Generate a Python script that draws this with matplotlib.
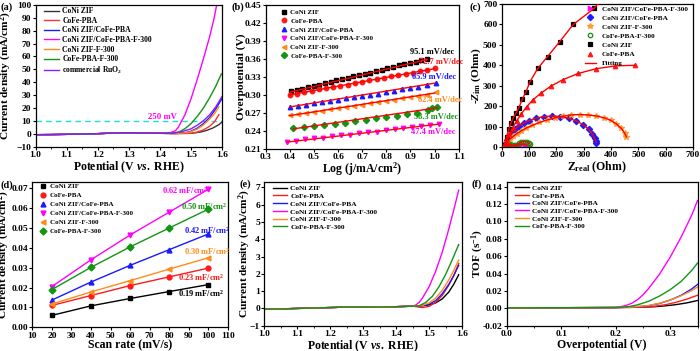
import numpy as np
import matplotlib.pyplot as plt
from matplotlib.ticker import MultipleLocator, FormatStrFormatter

plt.rcParams['font.family'] = ['Liberation Serif', 'DejaVu Serif']
plt.rcParams['font.weight'] = 'bold'
plt.rcParams['mathtext.fontset'] = 'custom'
plt.rcParams['mathtext.rm'] = 'Liberation Serif:bold'
plt.rcParams['mathtext.it'] = 'Liberation Serif:italic:bold'
plt.rcParams['mathtext.bf'] = 'Liberation Serif:bold'
plt.rcParams['mathtext.default'] = 'rm'

# ---------------- data ----------------
names6 = ["CoNi ZIF", "CoFe-PBA", "CoNi ZIF/CoFe-PBA", "CoNi ZIF/CoFe-PBA-F-300",
          "CoNi ZIF-F-300", "CoFe-PBA-F-300"]
ruo2_name = "commercial RuO$_2$"
col = {"zif": "#333333", "pba": "#ff3030", "mix": "#1a1aff", "f300": "#ff00ff",
       "zif300": "#ff8c1a", "pba300": "#139413", "ruo2": "#8a1aff"}

# (a) LSV, potential (V) / current density (mA/cm2)
lsv_base_x = [1.0, 1.05, 1.1, 1.2, 1.25, 1.3, 1.35, 1.4]
lsv_base_y = [-0.5, -0.4, -0.2, 0.3, 0.8, 1.0, 0.7, 0.6]
a_zif_x = [1.45, 1.5, 1.53, 1.55, 1.57, 1.59, 1.6]
a_zif_y = [0.4, 0.6, 1.5, 2.8, 4.6, 7.3, 9.2]
a_pba_x = [1.45, 1.5, 1.52, 1.54, 1.56, 1.575, 1.59]
a_pba_y = [0.4, 0.6, 1.5, 3.2, 6.0, 9.2, 15.0]
a_mix_x = [1.45, 1.48, 1.5, 1.52, 1.54, 1.56, 1.58, 1.6]
a_mix_y = [0.5, 1.0, 2.2, 4.5, 8.0, 12.8, 19.5, 27.5]
a_f300_x = [1.43, 1.45, 1.46, 1.47, 1.48, 1.5, 1.52, 1.54, 1.56, 1.575, 1.583]
a_f300_y = [0.8, 2.5, 5.5, 10.0, 14.5, 27.0, 42.0, 58.0, 75.0, 90.0, 100.0]
a_zif300_x = [1.45, 1.48, 1.5, 1.52, 1.54, 1.56, 1.575, 1.59]
a_zif300_y = [0.4, 0.9, 1.8, 3.8, 7.0, 11.5, 15.5, 21.0]
a_pba300_x = [1.44, 1.46, 1.48, 1.5, 1.52, 1.54, 1.56, 1.58, 1.598]
a_pba300_y = [0.6, 1.5, 4.0, 8.0, 13.5, 20.0, 28.0, 37.0, 46.5]
a_ruo2_x = [1.44, 1.47, 1.5, 1.52, 1.54, 1.56, 1.58, 1.6]
a_ruo2_y = [0.7, 1.8, 4.0, 6.8, 10.3, 14.8, 21.0, 29.0]

# (b) Tafel points, log(j) / overpotential (V)
b_zif_x = [0.405, 0.428, 0.452, 0.475, 0.499, 0.522, 0.546, 0.569, 0.593, 0.616, 0.640, 0.663,
           0.687, 0.710, 0.734, 0.757, 0.781, 0.804, 0.828, 0.851, 0.875, 0.898, 0.922, 0.945, 0.968]
b_zif_y = [0.306, 0.308, 0.310, 0.313, 0.315, 0.317, 0.319, 0.322, 0.324, 0.326, 0.328, 0.331,
           0.333, 0.335, 0.337, 0.340, 0.342, 0.344, 0.346, 0.349, 0.351, 0.353, 0.355, 0.358, 0.360]
b_pba_x = [0.40, 0.43, 0.46, 0.49, 0.52, 0.55, 0.58, 0.61, 0.64, 0.67, 0.70,
           0.73, 0.76, 0.79, 0.82, 0.85, 0.88, 0.91, 0.94, 0.97, 1.00]
b_pba_y = [0.300, 0.302, 0.304, 0.307, 0.309, 0.311, 0.313, 0.315, 0.317, 0.320, 0.322,
           0.324, 0.326, 0.328, 0.331, 0.333, 0.335, 0.337, 0.339, 0.342, 0.344]
b_mix_x = [0.400, 0.433, 0.467, 0.500, 0.533, 0.567, 0.600, 0.633, 0.667, 0.700,
           0.733, 0.767, 0.800, 0.833, 0.867, 0.900, 0.933, 0.967, 1.005]
b_mix_y = [0.280, 0.282, 0.284, 0.287, 0.288, 0.290, 0.292, 0.294, 0.296, 0.298,
           0.300, 0.302, 0.305, 0.307, 0.309, 0.311, 0.313, 0.316, 0.320]
b_f300_x = [0.390, 0.427, 0.464, 0.501, 0.538, 0.575, 0.612, 0.649, 0.686,
            0.723, 0.760, 0.797, 0.834, 0.871, 0.908, 0.945, 0.982, 1.019]
b_f300_y = [0.222, 0.224, 0.226, 0.228, 0.229, 0.231, 0.233, 0.234, 0.236,
            0.238, 0.239, 0.241, 0.243, 0.245, 0.246, 0.248, 0.250, 0.251]
b_zif300_x = b_mix_x
b_zif300_y = [0.266, 0.268, 0.270, 0.272, 0.274, 0.276, 0.278, 0.280, 0.282, 0.284,
              0.286, 0.288, 0.290, 0.292, 0.294, 0.296, 0.298, 0.300, 0.304]
b_pba300_x = [0.415, 0.458, 0.500, 0.543, 0.586, 0.629, 0.672, 0.715, 0.758,
              0.800, 0.843, 0.886, 0.929, 0.972, 0.990, 1.008]
b_pba300_y = [0.245, 0.247, 0.249, 0.250, 0.252, 0.254, 0.256, 0.259, 0.261,
              0.263, 0.265, 0.268, 0.270, 0.275, 0.278, 0.280]
b_fit_x = {"zif": [0.40, 0.97], "pba": [0.40, 1.00], "mix": [0.40, 1.00],
           "f300": [0.39, 1.02], "zif300": [0.40, 1.00], "pba300": [0.415, 1.01]}
b_fit_y = {"zif": [0.3045, 0.359], "pba": [0.300, 0.3436], "mix": [0.2800, 0.3195],
           "f300": [0.2215, 0.2515], "zif300": [0.2655, 0.303], "pba300": [0.2435, 0.2785]}
b_slopes = ["95.1 mV/dec", "72.7 mV/dec", "65.9 mV/dec", "47.4 mV/dec",
            "62.4 mV/dec", "58.3 mV/dec"]

# (c) Nyquist, Z_real / -Z_im (Ohm)
c_f300_x = [5, 10, 15, 20, 28, 36, 45, 55, 65, 75, 85, 92]
c_f300_y = [2, 6, 8, 8, 6, 4, 5, 9, 12, 14, 12, 8]
c_mix_x = [12, 18, 26, 36, 48, 62, 80, 100, 125, 155, 185, 215, 245, 272, 298, 318, 332, 340, 344, 346]
c_mix_y = [15, 32, 52, 70, 87, 102, 116, 129, 141, 149, 152, 149, 141, 128, 110, 88, 64, 42, 30, 22]
c_zif300_x = [12, 20, 30, 42, 56, 72, 90, 112, 138, 165, 195, 225, 255, 285, 315, 345,
              375, 400, 420, 437, 450, 456]
c_zif300_y = [10, 24, 38, 52, 66, 80, 93, 106, 120, 132, 143, 151, 157, 159, 157, 152,
              143, 130, 113, 92, 68, 50]
c_pba300_x = [8, 14, 22, 30, 38, 46, 54, 62, 70, 78, 86, 94, 100, 104]
c_pba300_y = [5, 10, 13, 13, 10, 8, 12, 18, 23, 26, 26, 24, 19, 14]
c_zif_x = [10, 18, 26, 34, 42, 52, 62, 75, 88, 104, 132, 168, 212, 262, 338]
c_zif_y = [12, 50, 88, 118, 142, 165, 190, 233, 268, 320, 385, 443, 515, 600, 678]
c_zif_fit_end = (352, 700)
c_pba_x = [10, 18, 28, 40, 55, 72, 92, 115, 145, 180, 225, 280, 345, 415, 488]
c_pba_y = [8, 30, 62, 95, 128, 163, 198, 232, 265, 298, 330, 360, 383, 397, 400]

# (d) capacitive current, scan rate (mV/s) / current density (mA/cm2)
d_scan = [20, 40, 60, 80, 100]
d_zif = [0.0060, 0.0108, 0.0145, 0.0180, 0.0215]
d_pba = [0.0110, 0.0160, 0.0210, 0.0254, 0.0298]
d_mix = [0.0137, 0.0228, 0.0312, 0.0391, 0.0470]
d_f300 = [0.0205, 0.0340, 0.0465, 0.0580, 0.0695]
d_zif300 = [0.0117, 0.0178, 0.0235, 0.0293, 0.0350]
d_pba300 = [0.0190, 0.0302, 0.0405, 0.0500, 0.0595]
d_cdl = ["0.19 mF/cm$^2$", "0.23 mF/cm$^2$", "0.42 mF/cm$^2$", "0.62 mF/cm$^2$",
         "0.30 mF/cm$^2$", "0.50 mF/cm$^2$"]

# (e) normalised LSV
e_base_x = [1.0, 1.05, 1.1, 1.2, 1.25, 1.3, 1.35, 1.4, 1.45]
e_base_y = [-0.05, -0.03, 0.0, 0.05, 0.08, 0.07, 0.08, 0.10, 0.13]
e_zif_x = [1.48, 1.5, 1.52, 1.54, 1.56, 1.575, 1.59]
e_zif_y = [0.16, 0.2, 0.32, 0.55, 0.95, 1.4, 1.95]
e_pba_x = [1.48, 1.5, 1.52, 1.54, 1.56, 1.575, 1.59]
e_pba_y = [0.05, 0.12, 0.35, 0.75, 1.35, 1.9, 2.6]
e_mix_x = [1.48, 1.5, 1.52, 1.54, 1.56, 1.575, 1.59]
e_mix_y = [0.16, 0.24, 0.45, 0.85, 1.4, 1.9, 2.5]
e_f300_x = [1.46, 1.47, 1.48, 1.5, 1.52, 1.54, 1.56, 1.575, 1.59]
e_f300_y = [0.2, 0.35, 0.6, 1.25, 2.15, 3.25, 4.6, 5.7, 6.85]
e_zif300_x = [1.48, 1.5, 1.52, 1.54, 1.56, 1.575, 1.59]
e_zif300_y = [0.18, 0.32, 0.6, 1.05, 1.65, 2.2, 2.8]
e_pba300_x = [1.47, 1.49, 1.51, 1.53, 1.55, 1.57, 1.59]
e_pba300_y = [0.15, 0.35, 0.7, 1.25, 1.95, 2.8, 3.7]

# (f) TOF, overpotential (V) / TOF (1/s)
f_base_x = [0.0, 0.05, 0.1, 0.15, 0.2]
f_base_y = [0.0005, 0.0006, 0.0007, 0.0008, 0.0009]
f_zif_x = [0.24, 0.27, 0.29, 0.31, 0.33, 0.35]
f_zif_y = [0.0012, 0.0018, 0.0028, 0.0042, 0.0062, 0.0090]
f_pba_x = [0.24, 0.27, 0.29, 0.31, 0.33, 0.35]
f_pba_y = [0.0012, 0.0022, 0.0040, 0.0068, 0.0105, 0.0150]
f_mix_x = [0.23, 0.26, 0.28, 0.30, 0.32, 0.34, 0.35]
f_mix_y = [0.0014, 0.0030, 0.0055, 0.0095, 0.0150, 0.0225, 0.0275]
f_f300_x = [0.21, 0.22, 0.23, 0.24, 0.25, 0.26, 0.28, 0.30, 0.32, 0.34, 0.35]
f_f300_y = [0.0020, 0.0035, 0.0060, 0.0100, 0.0155, 0.0225, 0.0390, 0.0590, 0.0820, 0.1080, 0.1240]
f_zif300_x = [0.23, 0.26, 0.28, 0.30, 0.32, 0.34, 0.35]
f_zif300_y = [0.0014, 0.0032, 0.0058, 0.0095, 0.0145, 0.0205, 0.0245]
f_pba300_x = [0.22, 0.24, 0.26, 0.28, 0.30, 0.32, 0.34, 0.35]
f_pba300_y = [0.0015, 0.0040, 0.0080, 0.0140, 0.0215, 0.0310, 0.0440, 0.0520]

keys = ["zif", "pba", "mix", "f300", "zif300", "pba300"]

# ---------------- layout ----------------
W, H = 700, 351
fig = plt.figure(figsize=(W / 100, H / 100), dpi=100)

TICK_FS = 6.8
XLABEL_FS = 8.5
YLABEL_FS = 8.2


def panel(l, r, t, b):
    ax = fig.add_axes([l / W, 1 - b / H, (r - l) / W, (b - t) / H])
    ax._px = (l, r, t, b)
    for s in ax.spines.values():
        s.set_linewidth(0.9)
    ax.tick_params(direction='out', length=2.5, width=0.8, labelsize=TICK_FS, pad=0.6)
    ax.tick_params(which='minor', direction='out', length=1.6, width=0.6)
    return ax


def style_labels(ax, xl, yl, ylab_right, xlab_top):
    l, r, t, b = ax._px
    ax.set_xlabel(xl, fontsize=XLABEL_FS, fontweight='bold')
    ax.set_ylabel(yl, fontsize=YLABEL_FS, fontweight='bold')
    ax.yaxis.set_label_coords((ylab_right - l) / (r - l), 0.5)
    ax.xaxis.set_label_coords(0.5, (b - xlab_top) / (b - t))
    for lab in ax.get_xticklabels() + ax.get_yticklabels():
        lab.set_fontweight('bold')


def legend(ax, x0, shift_px, handlelength, textpad, spacing, size=5.5):
    l, r, t, b = ax._px
    ax.legend(loc='upper left', bbox_to_anchor=(x0, 1.0 + shift_px / (b - t)), frameon=False,
              handlelength=handlelength, labelspacing=spacing, borderpad=0.35,
              handletextpad=textpad, prop={'weight': 'bold', 'size': size})


lab_kw = dict(fontsize=7.5, fontweight='bold', va='center')
fig.text(0.5 / W, 1 - 7 / H, "(a)", **lab_kw)
fig.text(231 / W, 1 - 7 / H, "(b)", **lab_kw)
fig.text(469 / W, 1 - 7 / H, "(c)", **lab_kw)
fig.text(0.5 / W, 1 - 185 / H, "(d)", **lab_kw)
fig.text(240 / W, 1 - 184 / H, "(e)", **lab_kw)
fig.text(472 / W, 1 - 184 / H, "(f)", **lab_kw)

# ----- (a)
ax = panel(35.5, 222, 4.7, 147)
a_sets = [(a_zif_x, a_zif_y), (a_pba_x, a_pba_y), (a_mix_x, a_mix_y), (a_f300_x, a_f300_y),
          (a_zif300_x, a_zif300_y), (a_pba300_x, a_pba300_y)]
ax.axhline(10, color='#19e0e0', lw=1.0, ls=(0, (4, 3)))
for k, nm, (xs, ys) in zip(keys, names6, a_sets):
    ax.plot(lsv_base_x + xs, lsv_base_y + ys, color=col[k], lw=1.0, label=nm)
ax.plot(lsv_base_x + a_ruo2_x, lsv_base_y + a_ruo2_y, color=col["ruo2"], lw=1.0, label=ruo2_name)
ax.text(1.41, 13, "250 mV", color=col["f300"], fontsize=6.3, fontweight='bold',
        ha='center', va='center')
ax.set_xlim(1.0, 1.6)
ax.set_ylim(-10, 100)
ax.xaxis.set_major_locator(MultipleLocator(0.1))
ax.xaxis.set_minor_locator(MultipleLocator(0.05))
ax.yaxis.set_major_locator(MultipleLocator(10))
ax.xaxis.set_major_formatter(FormatStrFormatter('%.1f'))
legend(ax, 0.01, 4, 2.0, 0.4, 0.21)
style_labels(ax, r"Potential (V $\mathit{vs.}$ RHE)", "Current density (mA/cm$^2$)", 14.5, 160)

# ----- (b)
ax = panel(265.7, 458.7, 4.7, 149)
b_sets = [(b_zif_x, b_zif_y), (b_pba_x, b_pba_y), (b_mix_x, b_mix_y), (b_f300_x, b_f300_y),
          (b_zif300_x, b_zif300_y), (b_pba300_x, b_pba300_y)]
b_mk = ['s', 'o', '^', 'v', '<', 'D']
b_col = ["#000000", "#ff1a1a", "#1a1aff", "#ff00ff", "#ff8c1a", "#139413"]
for k, nm, (xs, ys), m, c in zip(keys, names6, b_sets, b_mk, b_col):
    ax.plot(xs, ys, ls='none', marker=m, ms=3.2, color=c, mec=c, label=nm)
for k in keys:
    ax.plot(b_fit_x[k], b_fit_y[k], color='#ff0000', lw=1.0)
b_txt_pos = [(0.99, 0.3718), (1.026, 0.355), (0.997, 0.329), (0.995, 0.2388),
             (1.024, 0.2915), (1.005, 0.2637)]
for (tx, ty), s, c in zip(b_txt_pos, b_slopes, b_col):
    ax.text(tx, ty, s, color=c, fontsize=6, fontweight='bold', ha='center', va='center')
ax.set_xlim(0.3, 1.1)
ax.set_ylim(0.21, 0.45)
ax.xaxis.set_major_locator(MultipleLocator(0.1))
ax.yaxis.set_major_locator(MultipleLocator(0.03))
ax.xaxis.set_major_formatter(FormatStrFormatter('%.1f'))
ax.yaxis.set_major_formatter(FormatStrFormatter('%.2f'))
legend(ax, 0.05, 1.5, 0.8, 0.5, 0.42, size=5.0)
style_labels(ax, "Log (j/mA/cm$^2$)", "Overpotential (V)", 245.5, 160.5)

# ----- (c)
ax = panel(501.7, 693, 4, 147)
c_sets = [(c_f300_x, c_f300_y, '>', "#ff00ff", 'CoNi ZIF/CoFe-PBA-F-300', True),
          (c_mix_x, c_mix_y, 'D', "#1a1aff", 'CoNi ZIF/CoFe-PBA', True),
          (c_zif300_x, c_zif300_y, '*', "#ff9a30", 'CoNi ZIF-F-300', True),
          (c_pba300_x, c_pba300_y, 'o', "#139413", 'CoFe-PBA-F-300', False),
          (c_zif_x, c_zif_y, 's', "#000000", 'CoNi ZIF', True),
          (c_pba_x, c_pba_y, '^', "#ff1a1a", 'CoFe-PBA', True)]
for xs, ys, m, c, nm, filled in c_sets:
    ax.plot(xs, ys, ls='none', marker=m, ms=3.2 if m != '*' else 4,
            color=c, mec=c, mfc=c if filled else 'none', mew=0.9, label=nm, zorder=2)
for xs, ys, m, c, nm, filled in c_sets:
    ax.plot(xs, ys, color='#ff0000', lw=1.0, zorder=3)
ax.plot([c_zif_x[-1], c_zif_fit_end[0]], [c_zif_y[-1], c_zif_fit_end[1]],
        color='#ff0000', lw=1.0, zorder=3, clip_on=True)
ax.plot([], [], color='#ff0000', lw=1.0, label='Fitting')
ax.set_xlim(0, 700)
ax.set_ylim(0, 700)
ax.xaxis.set_major_locator(MultipleLocator(100))
ax.yaxis.set_major_locator(MultipleLocator(100))
ax.legend(loc='upper right', bbox_to_anchor=(1.0, 1.0 + 3.5 / 143), frameon=False,
          handlelength=1.6, labelspacing=0.42, borderpad=0.2, handletextpad=0.8,
          prop={'weight': 'bold', 'size': 5.2})
style_labels(ax, r"Z$_{\rm real}$ (Ohm)", r"-$\mathit{Z}_{\rm im}$ (Ohm)", 483, 159.5)

# ----- (d)
ax = panel(32.3, 228, 181.7, 327.3)
d_sets = [d_zif, d_pba, d_mix, d_f300, d_zif300, d_pba300]
d_txt_pos = [(96.5, 0.0171), (96.5, 0.0249), (99.3, 0.0489), (88, 0.0687),
             (99.3, 0.0383), (97.7, 0.061)]
for k, nm, ys, m, c, (tx, ty), s in zip(keys, names6, d_sets, b_mk, b_col, d_txt_pos, d_cdl):
    ax.plot(d_scan, ys, color=c, lw=1.0)
    ax.plot(d_scan, ys, ls='none', marker=m, ms=3.5, color=c, label=nm)
    ax.text(tx, ty, s, color=c, fontsize=6, fontweight='bold', ha='center', va='center')
ax.set_xlim(10, 110)
ax.set_ylim(0, 0.0733)
ax.xaxis.set_major_locator(MultipleLocator(10))
ax.yaxis.set_major_locator(MultipleLocator(0.01))
ax.yaxis.set_major_formatter(FormatStrFormatter('%.2f'))
legend(ax, 0.01, 4, 0.8, 0.6, 0.45, size=5.0)
style_labels(ax, "Scan rate (mV/s)", "Current density (mA/cm$^2$)", 12.5, 339)

# ----- (e)
ax = panel(264.3, 462, 182.3, 325.7)
e_sets = [(e_zif_x, e_zif_y), (e_pba_x, e_pba_y), (e_mix_x, e_mix_y), (e_f300_x, e_f300_y),
          (e_zif300_x, e_zif300_y), (e_pba300_x, e_pba300_y)]
e_col = ["#000000", "#ff1a1a", "#1a1aff", "#ff00ff", "#ff8c1a", "#139413"]
for k, nm, (xs, ys), c in zip(keys, names6, e_sets, e_col):
    ax.plot(e_base_x + xs, e_base_y + ys, color=c, lw=1.0, label=nm)
ax.set_xlim(1.0, 1.6)
ax.set_ylim(-1, 7.3)
ax.xaxis.set_major_locator(MultipleLocator(0.1))
ax.xaxis.set_minor_locator(MultipleLocator(0.05))
ax.yaxis.set_major_locator(MultipleLocator(1))
ax.xaxis.set_major_formatter(FormatStrFormatter('%.1f'))
legend(ax, 0.01, 3.5, 2.0, 0.4, 0.22, size=5.3)
style_labels(ax, r"Potential (V $\mathit{vs.}$ RHE)", "Current density (mA/cm$^2$)", 253, 339)

# ----- (f)
ax = panel(506.7, 697.5, 182.3, 325.7)
f_sets = [(f_zif_x, f_zif_y), (f_pba_x, f_pba_y), (f_mix_x, f_mix_y), (f_f300_x, f_f300_y),
          (f_zif300_x, f_zif300_y), (f_pba300_x, f_pba300_y)]
for k, nm, (xs, ys), c in zip(keys, names6, f_sets, e_col):
    ax.plot(f_base_x + xs, f_base_y + ys, color=c, lw=1.0, label=nm)
ax.set_xlim(0, 0.35)
ax.set_ylim(-0.02, 0.145)
ax.xaxis.set_major_locator(MultipleLocator(0.1))
ax.xaxis.set_minor_locator(MultipleLocator(0.05))
ax.yaxis.set_major_locator(MultipleLocator(0.02))
ax.xaxis.set_major_formatter(FormatStrFormatter('%.1f'))
ax.yaxis.set_major_formatter(FormatStrFormatter('%.2f'))
legend(ax, 0.01, 3.5, 2.0, 0.35, 0.22, size=5.2)
style_labels(ax, "Overpotential (V)", "TOF (s$^{-1}$)", 486, 339)

fig.savefig("out.png", dpi=100)
